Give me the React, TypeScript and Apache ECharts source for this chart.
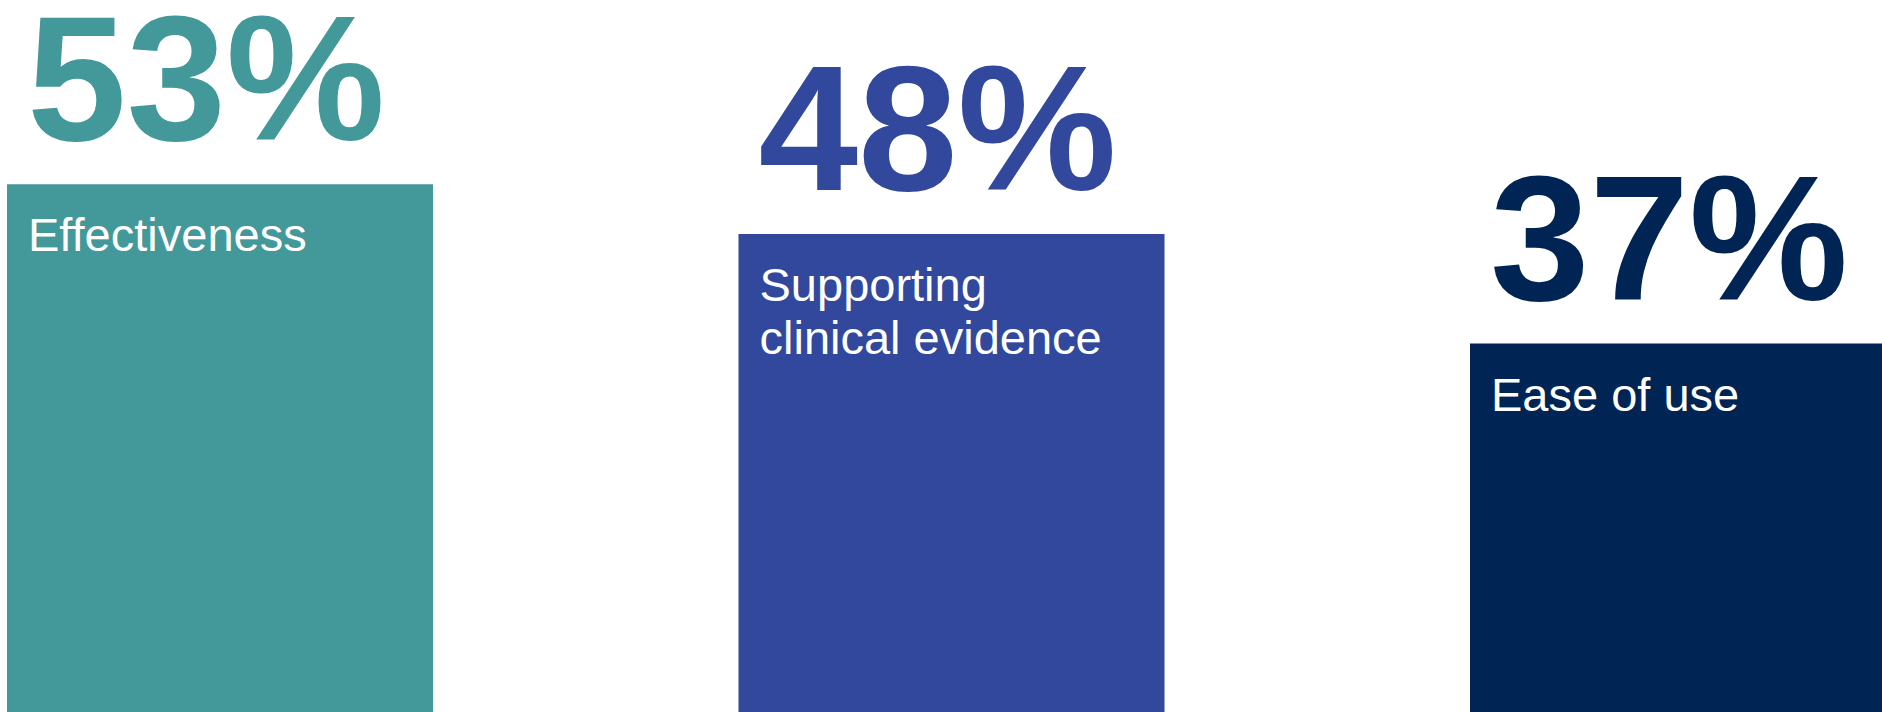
import React, { useEffect, useRef } from "react";
import * as echarts from "echarts";

const categories = ["Effectiveness", "Supporting\nclinical evidence", "Ease of use"];
const values = [53, 48, 37];
const barColors = ["#43999A", "#31489C", "#002454"];

export default function App() {
  const ref = useRef<HTMLDivElement>(null);

  useEffect(() => {
    if (!ref.current) return;
    const chart = echarts.init(ref.current, null, { renderer: "svg" });
    const font = "'Liberation Sans', Arial, sans-serif";
    // category positions 0,1,2 on a value axis; each category band spans 731.5px
    const band = 731.5;
    const firstCenter = 220;
    chart.setOption({
      animation: false,
      backgroundColor: "#ffffff",
      grid: { left: 0, right: 0, top: 0, bottom: 0, containLabel: false },
      xAxis: {
        type: "value",
        min: -firstCenter / band,
        max: (1882 - firstCenter) / band,
        show: false,
        splitLine: { show: false },
      },
      yAxis: {
        type: "value",
        min: 0,
        max: 71.5,
        show: false,
        splitLine: { show: false },
      },
      series: [
        {
          type: "bar",
          barWidth: 426,
          silent: true,
          clip: false,
          data: values.map((v, i) => ({
            name: categories[i],
            value: [i, v],
            itemStyle: { color: barColors[i] },
          })),
          label: {
            show: true,
            position: [21, 24],
            align: "left",
            verticalAlign: "top",
            formatter: (p: any) => categories[p.dataIndex],
            color: "#ffffff",
            fontFamily: font,
            fontSize: 47,
            lineHeight: 53,
          },
        },
        {
          type: "bar",
          barWidth: 426,
          barGap: "-100%",
          silent: true,
          clip: false,
          z: 3,
          data: values.map((v, i) => ({
            value: [i, v],
            itemStyle: { color: "rgba(0,0,0,0)" },
            label: { color: barColors[i] },
          })),
          label: {
            show: true,
            position: [20, -106],
            align: "left",
            verticalAlign: "middle",
            formatter: (p: any) => values[p.dataIndex] + "%",
            fontFamily: font,
            fontWeight: "bold",
            fontSize: 179,
            lineHeight: 150,
          },
        },
      ],
    });
    return () => chart.dispose();
  }, []);

  return (
    <div
      ref={ref}
      style={{ position: "absolute", left: 0, top: 0, width: 1882, height: 712 }}
    />
  );
}
